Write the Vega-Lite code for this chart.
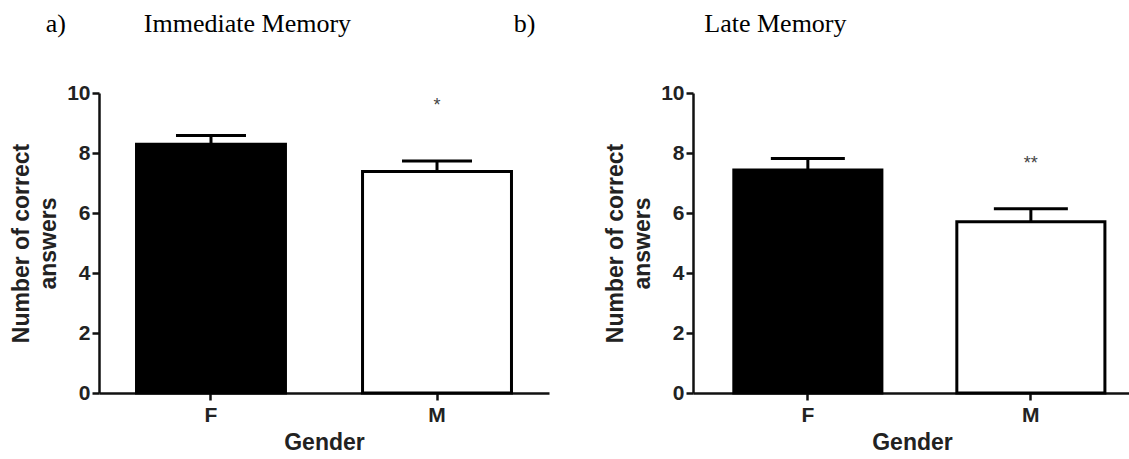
{
  "$schema": "https://vega.github.io/schema/vega-lite/v6.json",
  "background": "white",
  "padding": {"left": 10, "top": 11, "right": 0, "bottom": 0},
  "bounds": "flush",
  "spacing": 144,
  "datasets": {
    "memory": [
      {"test": "Immediate Memory", "gender": "F", "mean": 8.29, "upper": 8.58, "sig": "", "sig_y": 0},
      {"test": "Immediate Memory", "gender": "M", "mean": 7.38, "upper": 7.73, "sig": "*", "sig_y": 9.57},
      {"test": "Late Memory", "gender": "F", "mean": 7.43, "upper": 7.82, "sig": "", "sig_y": 0},
      {"test": "Late Memory", "gender": "M", "mean": 5.71, "upper": 6.14, "sig": "**", "sig_y": 7.63}
    ]
  },
  "hconcat": [
    {
      "width": 450,
      "height": 300,
      "data": {"name": "memory"},
      "transform": [{"filter": "datum.test === 'Immediate Memory'"}],
      "title": {
        "text": "a)\u00a0\u00a0\u00a0\u00a0\u00a0\u00a0\u00a0\u00a0\u00a0\u00a0\u00a0\u00a0Immediate Memory",
        "anchor": "start", "frame": "bounds", "dx": 35, "offset": 24,
        "baseline": "alphabetic", "font": "Liberation Serif", "fontSize": 26,
        "fontWeight": "normal", "color": "#000"
      },
      "encoding": {
        "x": {
          "field": "gender", "type": "nominal", "title": "Gender",
          "scale": {"paddingInner": 0.341, "paddingOuter": 0.166, "align": 0.5}
        }
      },
      "layer": [
        {
          "mark": {"type": "bar", "stroke": "#000", "strokeWidth": 3},
          "encoding": {
            "y": {"field": "mean", "type": "quantitative", "title": ["Number of correct", "answers"], "scale": {"domain": [0, 10], "nice": false}},
            "fill": {"field": "gender", "type": "nominal", "scale": {"domain": ["F", "M"], "range": ["#000000", "#ffffff"]}, "legend": null}
          }
        },
        {
          "mark": {"type": "rule", "strokeWidth": 3, "color": "#000"},
          "encoding": {
            "y": {"field": "mean", "type": "quantitative", "title": ["Number of correct", "answers"]},
            "y2": {"field": "upper"}
          }
        },
        {
          "mark": {"type": "tick", "orient": "horizontal", "size": 70, "thickness": 3, "color": "#000", "opacity": 1},
          "encoding": {
            "y": {"field": "upper", "type": "quantitative", "title": ["Number of correct", "answers"]}
          }
        },
        {
          "transform": [{"filter": "datum.sig !== ''"}],
          "mark": {"type": "text", "font": "Liberation Sans", "fontSize": 18, "color": "#444", "baseline": "middle"},
          "encoding": {
            "y": {"field": "sig_y", "type": "quantitative", "title": ["Number of correct", "answers"]},
            "text": {"field": "sig"}
          }
        }
      ]
    },
    {
      "width": 438,
      "height": 300,
      "data": {"name": "memory"},
      "transform": [{"filter": "datum.test === 'Late Memory'"}],
      "title": {
        "text": "b)\u00a0\u00a0\u00a0\u00a0\u00a0\u00a0\u00a0\u00a0\u00a0\u00a0\u00a0\u00a0\u00a0\u00a0\u00a0\u00a0\u00a0\u00a0\u00a0\u00a0\u00a0\u00a0\u00a0\u00a0\u00a0\u00a0Late Memory",
        "anchor": "start", "frame": "bounds", "dx": -91, "offset": 24,
        "baseline": "alphabetic", "font": "Liberation Serif", "fontSize": 26,
        "fontWeight": "normal", "color": "#000"
      },
      "encoding": {
        "x": {
          "field": "gender", "type": "nominal", "title": "Gender",
          "scale": {"paddingInner": 0.336, "paddingOuter": 0.15, "align": 0.61}
        }
      },
      "layer": [
        {
          "mark": {"type": "bar", "stroke": "#000", "strokeWidth": 3},
          "encoding": {
            "y": {"field": "mean", "type": "quantitative", "title": ["Number of correct", "answers"], "scale": {"domain": [0, 10], "nice": false}},
            "fill": {"field": "gender", "type": "nominal", "scale": {"domain": ["F", "M"], "range": ["#000000", "#ffffff"]}, "legend": null}
          }
        },
        {
          "mark": {"type": "rule", "strokeWidth": 3, "color": "#000"},
          "encoding": {
            "y": {"field": "mean", "type": "quantitative", "title": ["Number of correct", "answers"]},
            "y2": {"field": "upper"}
          }
        },
        {
          "mark": {"type": "tick", "orient": "horizontal", "size": 74, "thickness": 3, "color": "#000", "opacity": 1},
          "encoding": {
            "y": {"field": "upper", "type": "quantitative", "title": ["Number of correct", "answers"]}
          }
        },
        {
          "transform": [{"filter": "datum.sig !== ''"}],
          "mark": {"type": "text", "font": "Liberation Sans", "fontSize": 18, "color": "#444", "baseline": "middle"},
          "encoding": {
            "y": {"field": "sig_y", "type": "quantitative", "title": ["Number of correct", "answers"]},
            "text": {"field": "sig"}
          }
        }
      ]
    }
  ],
  "config": {
    "view": {"stroke": null},
    "axis": {
      "domainColor": "#111", "domainWidth": 2.5, "tickColor": "#111", "tickWidth": 2.5, "tickSize": 7,
      "labelFont": "Liberation Sans", "labelFontWeight": "bold", "labelFontSize": 21, "labelColor": "#222",
      "titleFont": "Liberation Sans", "titleFontWeight": "bold", "titleFontSize": 23, "titleColor": "#222",
      "grid": false
    },
    "axisY": {"tickCount": 5, "labelPadding": 2, "titlePadding": 6, "titleLineHeight": 27},
    "axisX": {"labelAngle": 0, "labelPadding": 4, "titlePadding": 6}
  }
}
